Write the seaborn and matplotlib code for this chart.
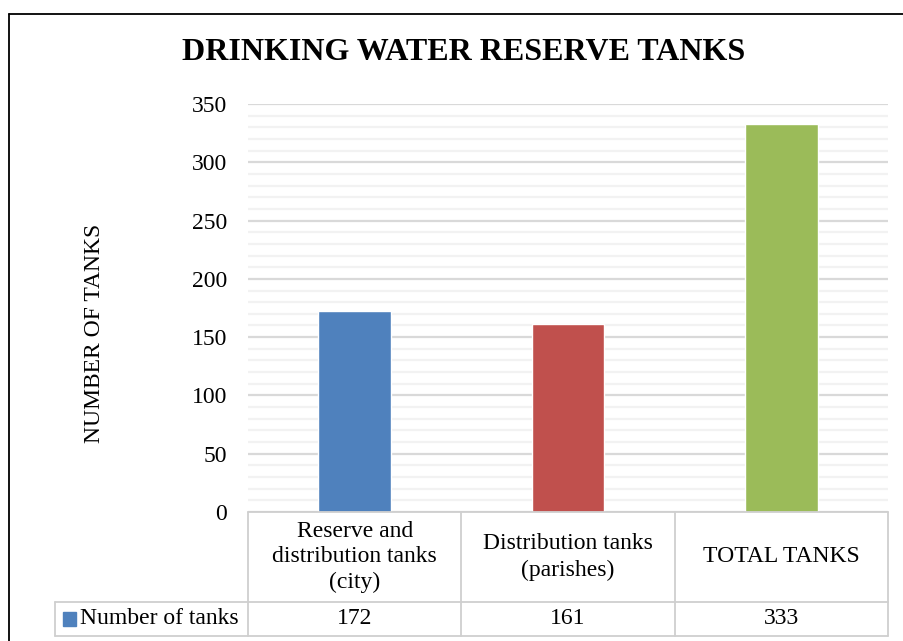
import matplotlib.pyplot as plt
import matplotlib.ticker as mticker
from matplotlib.lines import Line2D
import pandas as pd
import seaborn as sns

# ── Data ──────────────────────────────────────────────────────────────────────
categories = [
    "Reserve and\ndistribution tanks\n(city)",
    "Distribution tanks\n(parishes)",
    "TOTAL TANKS",
]
tanks = [172, 161, 333]
series_name = "Number of tanks"
colors = ["#4F81BD", "#C0504D", "#9BBB59"]

# ── Style ─────────────────────────────────────────────────────────────────────
sns.set_theme(style="white")
plt.rcParams["font.family"] = ["Liberation Serif", "DejaVu Serif"]
plt.rcParams["text.color"] = "black"
plt.rcParams["ytick.color"] = "black"
FS = 17
W, H = 904, 641
GRID_MAJOR = "#D9D9D9"
GRID_MINOR = "#F2F2F2"
TABLE_LINE = "#CFCFCF"

fig = plt.figure(figsize=(W / 100, H / 100), dpi=100)
fig.patch.set_facecolor("white")

# plot area: x 248..888, y 104..512 (pixels)
ax = fig.add_axes([248 / W, 1 - 512 / H, 640 / W, 408 / H])
df = pd.DataFrame({"cat": categories, "val": tanks})
sns.barplot(data=df, x="cat", y="val", hue="cat", palette=colors,
            width=0.34, saturation=1, legend=False, ax=ax)

ax.set_xlim(-0.5, len(categories) - 0.5)
ax.set_ylim(0, 350)
ax.yaxis.set_major_locator(mticker.MultipleLocator(50))
ax.yaxis.set_minor_locator(mticker.MultipleLocator(10))
ax.grid(axis="y", which="major", color=GRID_MAJOR, lw=1.6)
ax.grid(axis="y", which="minor", color=GRID_MINOR, lw=1.6)
ax.set_axisbelow(True)
for s in ax.spines.values():
    s.set_visible(False)
ax.set_xticks([])
ax.set_xlabel("")
ax.set_ylabel("")
ax.tick_params(axis="y", which="both", length=0, labelsize=FS, pad=15)

fig.text(95 / W, 1 - 333 / H, "NUMBER OF TANKS", rotation=90,
         ha="center", va="center", fontsize=FS)
fig.text(0.5 * (182 + 745) / W, 1 - 52 / H, "DRINKING WATER RESERVE TANKS",
         ha="center", va="center", fontsize=23, fontweight="bold")

# ── Data table ────────────────────────────────────────────────────────────────
tab = fig.add_axes([248 / W, 1 - 636 / H, 640 / W, 124 / H], sharex=ax)
tab.set_ylim(124, 0)
tab.axis("off")
px = 3 / 640  # data units per pixel
left_x = -0.5 - (248 - 55) * px
n = len(categories)
row_y = 90
kw = dict(color=TABLE_LINE, lw=1.3, clip_on=False)
tab.add_line(Line2D([-0.5, n - 0.5], [0, 0], **kw))
tab.add_line(Line2D([left_x, n - 0.5], [row_y, row_y], **kw))
tab.add_line(Line2D([left_x, n - 0.5], [124, 124], **kw))
tab.add_line(Line2D([left_x, left_x], [row_y, 124], **kw))
for i in range(n + 1):
    tab.add_line(Line2D([i - 0.5, i - 0.5], [0, 124], **kw))

for i, (c, v) in enumerate(zip(categories, tanks)):
    tab.text(i, row_y / 2, c, ha="center", va="center", fontsize=FS,
             linespacing=1.3)
    tab.text(i, (row_y + 124) / 2, f"{v}", ha="center", va="center", fontsize=FS)

tab.add_patch(plt.Rectangle((left_x + 8 * px, 100), 13 * px, 14,
                            color=colors[0], clip_on=False))
tab.text(left_x + 25 * px, (row_y + 124) / 2, series_name, ha="left",
         va="center", fontsize=FS)

# ── Outer chart border (cropped on right/bottom) ─────────────────────────────
fig.add_artist(Line2D([9 / W, 9 / W], [-0.1, 1 - 14 / H], color="black",
                      lw=1.3, transform=fig.transFigure))
fig.add_artist(Line2D([9 / W, 1.1], [1 - 14 / H, 1 - 14 / H], color="black",
                      lw=1.3, transform=fig.transFigure))

fig.savefig("out.png", dpi=100)
